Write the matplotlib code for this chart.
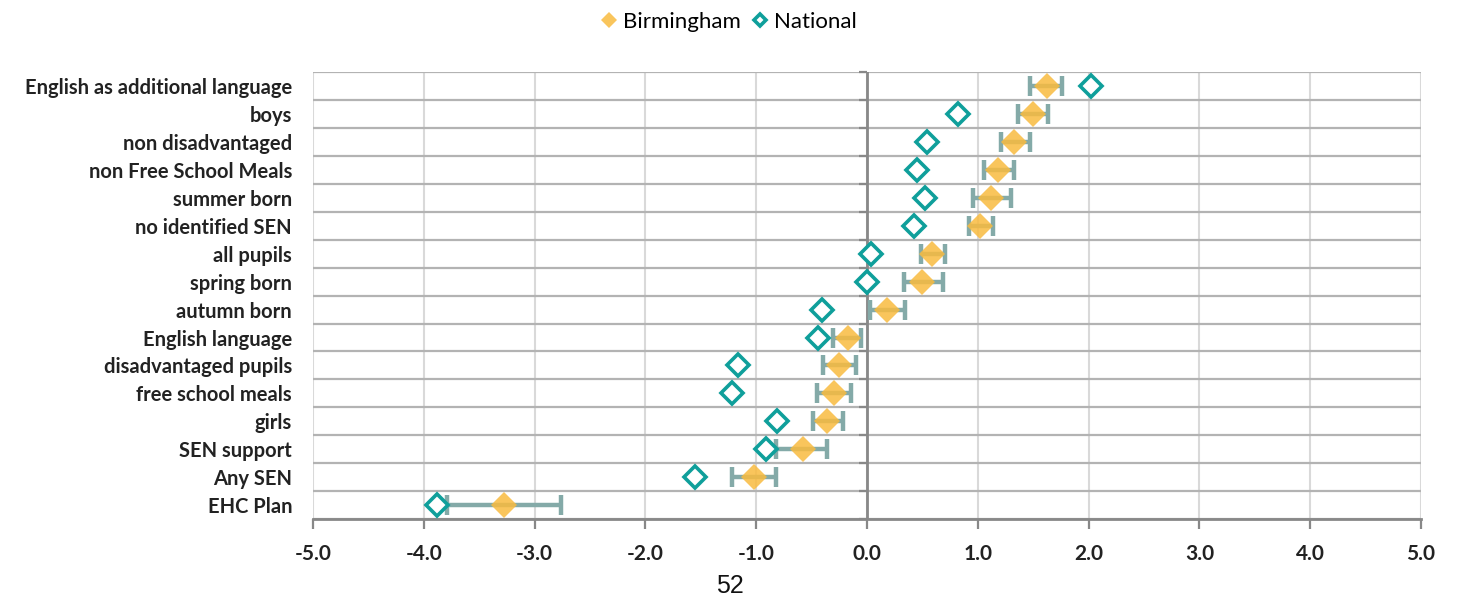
import numpy as np
import matplotlib.pyplot as plt

# Pupil groups, top to bottom
groups = [
    "English as additional language", "boys", "non disadvantaged",
    "non Free School Meals", "summer born", "no identified SEN",
    "all pupils", "spring born", "autumn born", "English language",
    "disadvantaged pupils", "free school meals", "girls", "SEN support",
    "Any SEN", "EHC Plan",
]

# Birmingham scores with confidence interval bounds
birmingham = [1.62, 1.50, 1.33, 1.18, 1.12, 1.02, 0.59, 0.50, 0.18, -0.17,
              -0.25, -0.30, -0.36, -0.58, -1.02, -3.28]
birm_low = [1.47, 1.36, 1.21, 1.06, 0.96, 0.92, 0.49, 0.33, 0.03, -0.31,
            -0.40, -0.45, -0.49, -0.82, -1.22, -3.79]
birm_high = [1.76, 1.63, 1.47, 1.33, 1.30, 1.14, 0.70, 0.69, 0.34, -0.05,
             -0.10, -0.14, -0.22, -0.36, -0.82, -2.76]

# National scores
national = [2.02, 0.82, 0.54, 0.45, 0.52, 0.42, 0.04, 0.00, -0.41, -0.44,
            -1.16, -1.22, -0.81, -0.91, -1.55, -3.88]

xticks = [-5, -4, -3, -2, -1, 0, 1, 2, 3, 4, 5]

plt.rcParams['font.family'] = ['Lato', 'DejaVu Sans']

fig = plt.figure(figsize=(14.59, 5.96), dpi=100)
ax = fig.add_axes([0.2145, 0.129, 0.7595, 0.750])

y = np.arange(len(groups))
birm = np.array(birmingham)
err = [birm - np.array(birm_low), np.array(birm_high) - birm]

ax.errorbar(birm, y, xerr=err, fmt='none', ecolor='#84aaa8', elinewidth=3.2,
            capsize=7, capthick=3.2, zorder=3)
ax.plot(birm, y, 'D', color='#f9bb3f', alpha=0.85, markersize=13,
        markeredgewidth=0, label='Birmingham', zorder=4)
ax.plot(national, y, 'D', markerfacecolor='white', markeredgecolor='#0f9f9b',
        markersize=11, markeredgewidth=2.6, label='National', zorder=5)

ax.set_xlim(-5, 5)
ax.set_ylim(len(groups) - 0.5, -0.5)
ax.set_xticks(xticks)
ax.set_xticklabels([f"{v:.1f}" for v in xticks], fontsize=15, fontweight='bold',
                   color='#222222')
ax.set_yticks(y)
ax.set_yticklabels(groups, fontsize=14.5, fontweight='bold', color='#222222')
ax.tick_params(axis='y', length=0, pad=15)
ax.tick_params(axis='x', length=7, width=1.6, color='#888888', pad=11)

bounds = np.arange(-0.5, len(groups) - 0.4, 1.0)
ax.set_yticks(bounds, minor=True)
ax.tick_params(axis='y', which='minor', length=0)
ax.grid(axis='x', which='major', color='#d9d9d9', linewidth=1.5, zorder=0)
ax.grid(axis='y', which='minor', color='#b3b3b3', linewidth=1.6, zorder=0)
ax.set_axisbelow(True)

for side in ['left', 'right', 'top']:
    ax.spines[side].set_visible(False)
ax.spines['bottom'].set_color('#888888')
ax.spines['bottom'].set_linewidth(2)

# vertical axis line through zero with its tick marks
ax.axvline(0, color='#888888', linewidth=2, zorder=2)
ax.plot(np.zeros(len(bounds)), bounds, linestyle='none', marker=0,
        markersize=6, markeredgewidth=1.6, color='#888888', zorder=2,
        clip_on=False)

fig.legend(loc='upper center', bbox_to_anchor=(0.5, 1.013), ncol=2, frameon=False,
           fontsize=16, markerscale=0.6, handlelength=0.6, handletextpad=0.3,
           columnspacing=0.6)

fig.text(0.5, 0.005, "52", fontsize=18, family='Liberation Sans', ha='center',
         color='#111111')

fig.savefig("out.png", dpi=100)
